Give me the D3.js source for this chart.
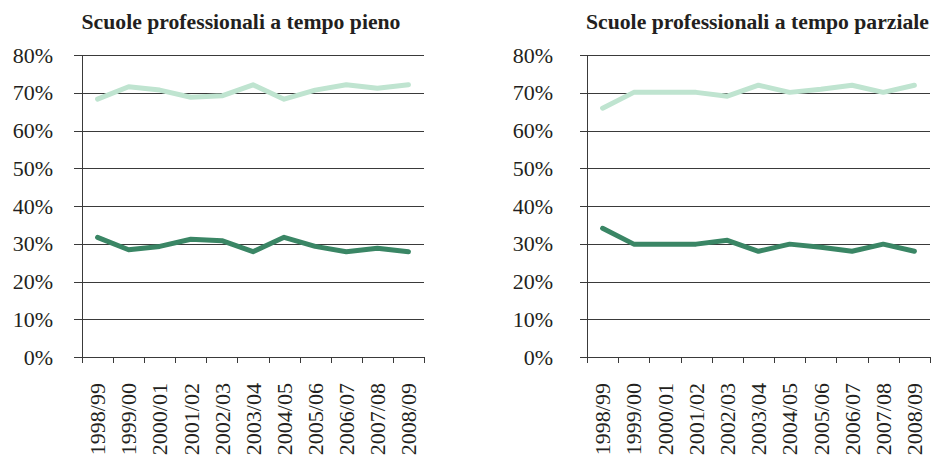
<!DOCTYPE html>
<html><head><meta charset="utf-8">
<script src="https://cdn.jsdelivr.net/npm/d3@7"></script>
<style>body{margin:0;background:#fff}svg{display:block}</style>
</head><body>
<script>
const categories = ["1998/99","1999/00","2000/01","2001/02","2002/03","2003/04","2004/05","2005/06","2006/07","2007/08","2008/09"];
const yTicks = [0,0.1,0.2,0.3,0.4,0.5,0.6,0.7,0.8];
const titles = ["Scuole professionali a tempo pieno","Scuole professionali a tempo parziale"];
const pienoLight = [0.683,0.716,0.707,0.688,0.692,0.721,0.683,0.707,0.721,0.712,0.721];
const pienoDark  = [0.317,0.284,0.293,0.312,0.308,0.279,0.317,0.293,0.279,0.288,0.279];
const parzLight  = [0.659,0.701,0.701,0.701,0.691,0.720,0.701,0.709,0.720,0.701,0.720];
const parzDark   = [0.341,0.299,0.299,0.299,0.309,0.280,0.299,0.291,0.280,0.299,0.280];

const W = 935, H = 461;
const svg = d3.select("body").append("svg").attr("width", W).attr("height", H);
const font = "'Liberation Serif','Times New Roman',serif";
const ink = "#231f20";

const panels = [
  {x0:82, x1:424, gridStart:74, labelX:53, title:titles[0], light:pienoLight, dark:pienoDark, titleX:241},
  {x0:587, x1:930, gridStart:580, labelX:553, title:titles[1], light:parzLight, dark:parzDark, titleX:757.5}
];
const y = d3.scaleLinear().domain([0,0.8]).range([357,55]);

panels.forEach(p => {
  const g = svg.append("g");
  const x = d3.scaleBand().domain(categories).range([p.x0, p.x1]).padding(0);
  g.selectAll("line.grid").data(yTicks).join("line")
    .attr("x1", p.gridStart).attr("x2", p.x1)
    .attr("y1", d => Math.round(y(d))+0.5).attr("y2", d => Math.round(y(d))+0.5)
    .attr("stroke", "#3a3a3a").attr("stroke-width", 1);
  g.selectAll("text.yl").data(yTicks).join("text")
    .attr("x", p.labelX).attr("y", d => y(d))
    .attr("dy", "0.35em").attr("text-anchor", "end")
    .attr("font-family", font).attr("font-size", 22).attr("fill", ink)
    .text(d => d3.format(".0%")(d));
  g.append("line").attr("x1", p.x0+0.5).attr("x2", p.x0+0.5)
    .attr("y1", y(0.8)).attr("y2", y(0)+6).attr("stroke", "#3a3a3a");
  const edges = categories.map(c => x(c)).concat([p.x1]);
  g.selectAll("line.xt").data(edges).join("line")
    .attr("x1", d => Math.round(d)+0.5).attr("x2", d => Math.round(d)+0.5)
    .attr("y1", y(0)).attr("y2", y(0)+6).attr("stroke", "#3a3a3a");
  g.selectAll("text.xl").data(categories).join("text")
    .attr("transform", d => `translate(${x(d)+x.bandwidth()/2},383) rotate(-90)`)
    .attr("dy", "0.35em").attr("text-anchor", "end")
    .attr("font-family", font).attr("font-size", 22).attr("fill", ink)
    .text(d => d);
  const line = d3.line().x((d,i) => x(categories[i]) + x.bandwidth()/2).y(d => y(d));
  g.append("path").datum(p.light).attr("d", line).attr("fill", "none")
    .attr("stroke", "#bfe4d0").attr("stroke-width", 5).attr("stroke-linejoin", "round").attr("stroke-linecap", "round");
  g.append("path").datum(p.dark).attr("d", line).attr("fill", "none")
    .attr("stroke", "#3a8665").attr("stroke-width", 5).attr("stroke-linejoin", "round").attr("stroke-linecap", "round");
  g.append("text").attr("x", p.titleX).attr("y", 29).attr("text-anchor", "middle")
    .attr("font-family", font).attr("font-size", 21.7).attr("font-weight", "bold").attr("fill", ink)
    .text(p.title);
});
</script>
</body></html>
